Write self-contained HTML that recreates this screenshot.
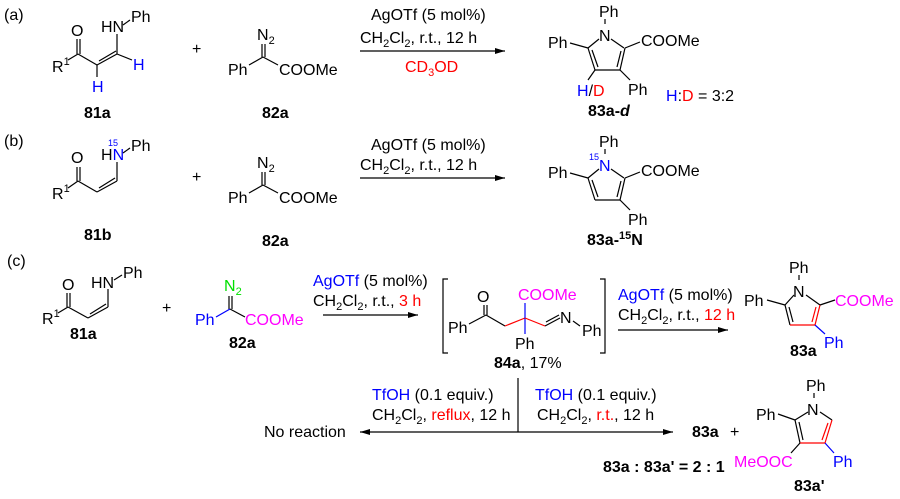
<!DOCTYPE html>
<html><head><meta charset="utf-8"><style>
html,body{margin:0;padding:0;background:#fff;width:900px;height:499px;overflow:hidden}
svg{display:block}
text{font-family:"Liberation Sans",Arial,sans-serif;font-size:16px;fill:#000}
.b{font-weight:bold}
.s{font-size:11px}
.blue{fill:#0000ff}.red{fill:#ff0000}.mag{fill:#ff00ff}.grn{fill:#00e000}
line,polyline,path{stroke:#000;stroke-width:1.2;fill:none}
.rl{stroke:#ff0000}.bl{stroke:#0000ff}
</style></head><body>
<svg width="900" height="499" viewBox="0 0 900 499" xmlns="http://www.w3.org/2000/svg">
<defs><marker id="ah" markerWidth="10" markerHeight="6" refX="10" refY="3" orient="auto" markerUnits="userSpaceOnUse"><path d="M0,0 L10,3 L0,6 Z" style="fill:#000;stroke:none"/></marker></defs>

<!-- (a) -->
<text x="4" y="20">(a)</text>
<text x="71" y="36">O</text>
<line x1="77" y1="39" x2="77" y2="54"/><line x1="80" y1="39" x2="80" y2="54"/>
<text x="52" y="72">R<tspan class="s" dy="-7">1</tspan></text>
<line x1="68" y1="60" x2="78" y2="54"/>
<line x1="78" y1="54" x2="97" y2="65"/>
<polyline points="97,65 117,54"/><line x1="99" y1="61" x2="116" y2="51"/>
<line x1="117" y1="54" x2="117" y2="34"/>
<text x="101" y="32">HN</text>
<line x1="123" y1="25" x2="130" y2="20"/>
<text x="131" y="22">Ph</text>
<line x1="97" y1="65" x2="97" y2="77"/>
<text class="blue" x="92" y="92">H</text>
<line x1="117" y1="54" x2="132" y2="60"/>
<text class="blue" x="133" y="70">H</text>
<text class="b" x="84" y="118">81a</text>
<text x="192" y="54">+</text>
<text x="257" y="40">N<tspan class="s" dy="4">2</tspan></text>
<line x1="262" y1="44" x2="262" y2="57"/><line x1="265" y1="44" x2="265" y2="57"/>
<text x="228" y="75">Ph</text>
<line x1="249" y1="65" x2="263" y2="57"/><line x1="263" y1="57" x2="278" y2="65"/>
<text x="279" y="75">COOMe</text>
<text class="b" x="262" y="118">82a</text>
<text x="371" y="20">AgOTf (5 mol%)</text>
<text x="360" y="43">CH<tspan class="s" dy="4">2</tspan><tspan dy="-4">Cl</tspan><tspan class="s" dy="4">2</tspan><tspan dy="-4">, r.t., 12 h</tspan></text>
<line x1="360" y1="51" x2="505" y2="51" marker-end="url(#ah)"/>
<text class="red" x="405" y="72">CD<tspan class="s" dy="4">3</tspan><tspan dy="-4">OD</tspan></text>
<!-- 83a-d -->
<text x="599" y="17">Ph</text>
<line x1="605" y1="19" x2="605" y2="24"/>
<text x="599" y="41">N</text>
<line x1="599" y1="39" x2="588" y2="48"/><line x1="611" y1="39" x2="624" y2="48"/>
<line x1="588" y1="48" x2="595" y2="70"/><line x1="592" y1="50" x2="598" y2="67"/>
<line x1="595" y1="70" x2="620" y2="70"/>
<line x1="620" y1="70" x2="625" y2="48"/><line x1="617" y1="67" x2="621" y2="51"/>
<line x1="588" y1="48" x2="570" y2="43"/>
<text x="548" y="48">Ph</text>
<line x1="625" y1="48" x2="640" y2="42"/>
<text x="641" y="46">COOMe</text>
<line x1="620" y1="70" x2="630" y2="80"/>
<text x="628" y="95">Ph</text>
<line x1="595" y1="70" x2="588" y2="80"/>
<text x="577" y="96"><tspan class="blue">H</tspan>/<tspan class="red">D</tspan></text>
<text x="666" y="101"><tspan class="blue">H</tspan>:<tspan class="red">D</tspan> = 3:2</text>
<text class="b" x="588" y="116">83a-<tspan font-style="italic">d</tspan></text>

<!-- (b) -->
<text x="4" y="146">(b)</text>
<text x="71" y="163">O</text>
<line x1="77" y1="167" x2="77" y2="181"/><line x1="80" y1="167" x2="80" y2="181"/>
<text x="52" y="199">R<tspan class="s" dy="-7">1</tspan></text>
<line x1="68" y1="188" x2="78" y2="181"/>
<line x1="78" y1="181" x2="97" y2="192"/>
<line x1="97" y1="192" x2="117" y2="181"/><line x1="99" y1="188" x2="115" y2="178"/>
<line x1="117" y1="181" x2="117" y2="162"/>
<text x="101" y="160">H<tspan class="blue">N</tspan></text>
<text class="blue" x="108" y="146" style="font-size:9px">15</text>
<line x1="123" y1="153" x2="130" y2="148"/>
<text x="131" y="151">Ph</text>
<text class="b" x="84" y="240">81b</text>
<text x="192" y="182">+</text>
<text x="257" y="168">N<tspan class="s" dy="4">2</tspan></text>
<line x1="262" y1="172" x2="262" y2="185"/><line x1="265" y1="172" x2="265" y2="185"/>
<text x="228" y="203">Ph</text>
<line x1="249" y1="193" x2="263" y2="185"/><line x1="263" y1="185" x2="278" y2="193"/>
<text x="279" y="203">COOMe</text>
<text class="b" x="262" y="246">82a</text>
<text x="371" y="150">AgOTf (5 mol%)</text>
<text x="360" y="170">CH<tspan class="s" dy="4">2</tspan><tspan dy="-4">Cl</tspan><tspan class="s" dy="4">2</tspan><tspan dy="-4">, r.t., 12 h</tspan></text>
<line x1="360" y1="178" x2="505" y2="178" marker-end="url(#ah)"/>
<!-- 83a-15N -->
<text x="599" y="147">Ph</text>
<line x1="605" y1="149" x2="605" y2="154"/>
<text class="blue" x="599" y="171">N</text>
<text class="blue" x="589" y="160" style="font-size:9px">15</text>
<line x1="599" y1="169" x2="588" y2="178"/><line x1="611" y1="169" x2="624" y2="178"/>
<line x1="588" y1="178" x2="595" y2="200"/><line x1="592" y1="180" x2="598" y2="197"/>
<line x1="595" y1="200" x2="620" y2="200"/>
<line x1="620" y1="200" x2="625" y2="178"/><line x1="617" y1="197" x2="621" y2="181"/>
<line x1="588" y1="178" x2="570" y2="173"/>
<text x="548" y="178">Ph</text>
<line x1="625" y1="178" x2="640" y2="172"/>
<text x="641" y="176">COOMe</text>
<line x1="620" y1="200" x2="630" y2="210"/>
<text x="628" y="225">Ph</text>
<text class="b" x="587" y="245">83a-<tspan class="s" dy="-6">15</tspan><tspan dy="6">N</tspan></text>

<!-- (c) -->
<text x="7" y="266">(c)</text>
<text x="62" y="290">O</text>
<line x1="67" y1="293" x2="67" y2="307"/><line x1="70" y1="293" x2="70" y2="307"/>
<text x="42" y="324">R<tspan class="s" dy="-7">1</tspan></text>
<line x1="58" y1="313" x2="68" y2="307"/>
<line x1="68" y1="307" x2="88" y2="318"/>
<line x1="88" y1="318" x2="108" y2="307"/><line x1="90" y1="314" x2="106" y2="304"/>
<line x1="108" y1="307" x2="108" y2="289"/>
<text x="91" y="288">HN</text>
<line x1="114" y1="280" x2="122" y2="275"/>
<text x="123" y="278">Ph</text>
<text class="b" x="70" y="339">81a</text>
<text x="162" y="313">+</text>
<text class="grn" x="224" y="291">N<tspan class="s" dy="4">2</tspan></text>
<line x1="229" y1="296" x2="229" y2="309"/><line x1="232" y1="296" x2="232" y2="309"/>
<text class="blue" x="195" y="325">Ph</text>
<line class="bl" x1="216" y1="317" x2="230" y2="309"/><line x1="230" y1="309" x2="245" y2="317"/>
<text class="mag" x="245" y="325">COOMe</text>
<text class="b" x="229" y="348">82a</text>
<text x="313" y="286"><tspan class="blue">AgOTf</tspan> (5 mol%)</text>
<text x="313" y="306">CH<tspan class="s" dy="4">2</tspan><tspan dy="-4">Cl</tspan><tspan class="s" dy="4">2</tspan><tspan dy="-4">, r.t., </tspan><tspan class="red">3 h</tspan></text>
<line x1="323" y1="315" x2="418" y2="315" marker-end="url(#ah)"/>
<!-- 84a -->
<polyline points="448,279 443,279 443,353 448,353"/>
<polyline points="600,279 605,279 605,353 600,353"/>
<text x="477" y="302">O</text>
<line x1="484" y1="305" x2="484" y2="315"/><line x1="487" y1="305" x2="487" y2="315"/>
<text x="448" y="333">Ph</text>
<line x1="469" y1="324" x2="486" y2="315"/>
<line x1="486" y1="315" x2="505" y2="326"/>
<line class="rl" x1="505" y1="326" x2="525" y2="318"/>
<line class="bl" x1="525" y1="303" x2="525" y2="334"/>
<text class="mag" x="518" y="300">COOMe</text>
<line class="rl" x1="525" y1="318" x2="545" y2="326"/>
<line x1="545" y1="326" x2="560" y2="318"/><line x1="546" y1="322" x2="559" y2="315"/>
<text x="560" y="323">N</text>
<line x1="573" y1="321" x2="580" y2="326"/>
<text x="582" y="336">Ph</text>
<text x="515" y="349">Ph</text>
<text x="494" y="368"><tspan class="b">84a</tspan>, 17%</text>
<text x="618" y="300"><tspan class="blue">AgOTf</tspan> (5 mol%)</text>
<text x="618" y="320">CH<tspan class="s" dy="4">2</tspan><tspan dy="-4">Cl</tspan><tspan class="s" dy="4">2</tspan><tspan dy="-4">, r.t., </tspan><tspan class="red">12 h</tspan></text>
<line x1="618" y1="330" x2="728" y2="330" marker-end="url(#ah)"/>
<!-- 83a -->
<text x="789" y="273">Ph</text>
<line x1="799" y1="275" x2="799" y2="280"/>
<text x="793" y="297">N</text>
<line x1="794" y1="295" x2="785" y2="305"/><line x1="806" y1="295" x2="820" y2="305"/>
<line x1="785" y1="305" x2="790" y2="325"/><line x1="789" y1="307" x2="793" y2="322"/>
<line class="rl" x1="790" y1="325" x2="815" y2="325"/>
<line class="rl" x1="815" y1="325" x2="820" y2="305"/><line class="rl" x1="812" y1="322" x2="816" y2="307"/>
<line x1="785" y1="305" x2="767" y2="300"/>
<text x="744" y="306">Ph</text>
<line x1="820" y1="305" x2="835" y2="300"/>
<text class="mag" x="835" y="306">COOMe</text>
<line class="bl" x1="815" y1="325" x2="825" y2="334"/>
<text class="blue" x="824" y="348">Ph</text>
<text class="b" x="790" y="356">83a</text>
<!-- lower -->
<line x1="518" y1="378" x2="518" y2="432"/>
<line x1="518" y1="432" x2="360" y2="432" marker-end="url(#ah)"/>
<line x1="518" y1="432" x2="673" y2="432" marker-end="url(#ah)"/>
<text x="372" y="400"><tspan class="blue">TfOH</tspan> (0.1 equiv.)</text>
<text x="372" y="420">CH<tspan class="s" dy="4">2</tspan><tspan dy="-4">Cl</tspan><tspan class="s" dy="4">2</tspan><tspan dy="-4">, </tspan><tspan class="red">reflux</tspan>, 12 h</text>
<text x="535" y="400"><tspan class="blue">TfOH</tspan> (0.1 equiv.)</text>
<text x="537" y="420">CH<tspan class="s" dy="4">2</tspan><tspan dy="-4">Cl</tspan><tspan class="s" dy="4">2</tspan><tspan dy="-4">, </tspan><tspan class="red">r.t.</tspan>, 12 h</text>
<text x="264" y="437">No reaction</text>
<text class="b" x="692" y="437">83a</text><text x="730" y="437">+</text>
<text class="b" x="603" y="472">83a : 83a' = 2 : 1</text>
<!-- 83a' -->
<text x="806" y="391">Ph</text>
<line x1="814" y1="393" x2="814" y2="398"/>
<text x="807" y="415">N</text>
<line x1="808" y1="412" x2="795" y2="420"/><line x1="820" y1="412" x2="832" y2="420"/>
<line x1="795" y1="420" x2="800" y2="443"/><line x1="799" y1="422" x2="803" y2="440"/>
<line class="rl" x1="800" y1="443" x2="825" y2="443"/>
<line class="rl" x1="825" y1="443" x2="832" y2="420"/><line class="rl" x1="822" y1="440" x2="828" y2="423"/>
<line x1="795" y1="420" x2="778" y2="414"/>
<text x="756" y="420">Ph</text>
<line x1="800" y1="443" x2="791" y2="453"/>
<text class="mag" x="734" y="467">MeOOC</text>
<line class="bl" x1="825" y1="443" x2="834" y2="453"/>
<text class="blue" x="833" y="467">Ph</text>
<text class="b" x="794" y="491">83a'</text>
</svg>
</body></html>
